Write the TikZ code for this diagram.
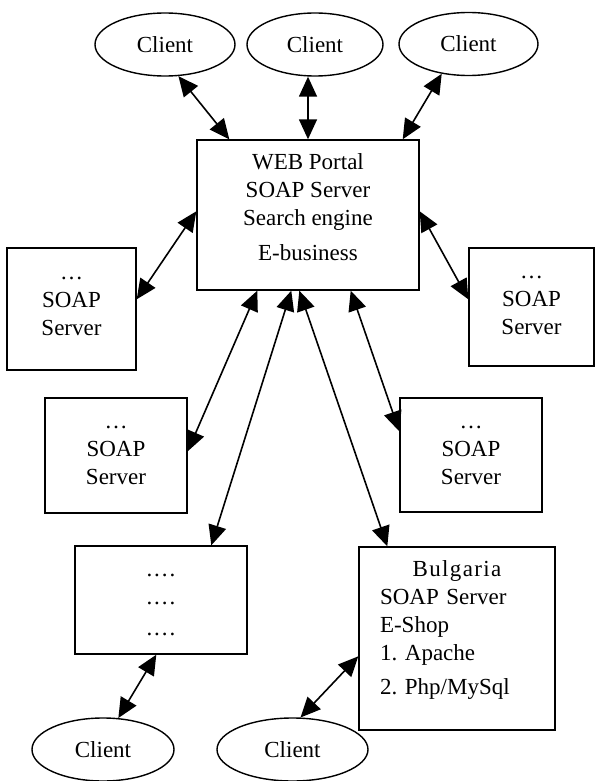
\documentclass[tikz,border=0pt]{standalone}
\usepackage{fontspec}
\setmainfont{Liberation Serif}
\usetikzlibrary{positioning,shapes.geometric,arrows.meta}
\tikzset{
  client/.style={draw, ellipse, line width=0.7pt, inner sep=0pt, minimum width=70pt, minimum height=31.5pt},
  server/.style={draw, rectangle, line width=0.7pt, align=center},
  link/.style={{Triangle[length=10pt,width=9pt]}-{Triangle[length=10pt,width=9pt]}, line width=0.8pt}
}
\newcommand{\dotrow}{.\kern1pt.\kern1pt.\kern1pt.}
\frenchspacing

\begin{document}
\begin{tikzpicture}[x=0.5pt,y=-0.5pt,font=\fontsize{11.5}{14}\selectfont]
                   \useasboundingbox (0,0) rectangle (597,781);
                   % clients on top
                   \node[client] (c_1) at (165,44.5) {Client};
                   \node[client, minimum width=68pt] (c_2) at (315,44.5) {Client};
                   \node[client, minimum width=69.5pt] (c_3) at (468.5,44) {Client};
                   % portal
                   \node[server, minimum width=111pt, minimum height=75pt, text depth=8pt] (portal) at (308,215)
                        {WEB Portal\\SOAP Server\\Search engine\\[3.5pt]E-business};
                   % soap servers
                   \node[server, minimum width=64.5pt, minimum height=61pt, text depth=3pt] (s_1) at (71.5,309) {\char"2026\\SOAP\\Server};
                   \node[server, minimum width=62.5pt, minimum height=59pt, text depth=1.5pt] (s_2) at (531.5,307) {\char"2026\\SOAP\\Server};
                   \node[server, minimum width=71pt, minimum height=57.5pt] (s_3) at (116,455.5) {\char"2026\\SOAP\\Server};
                   \node[server, minimum width=71pt, minimum height=57pt] (s_4) at (471,455) {\char"2026\\SOAP\\Server};
                   \node[server, minimum width=86pt, minimum height=54pt, text height=36pt] (dots) at (161,600) {\dotrow\\\dotrow\\[1.5pt]\dotrow};
                   \node[server, minimum width=98pt, minimum height=91.5pt, text width=77pt, align=left, text depth=70.4pt] (bg) at (457,638.5)
                        {\makebox[77pt]{\addfontfeature{LetterSpace=6}Bulgaria}\\SOAP Server\\E-Shop\\1. Apache\\[3pt]2. Php/MySql};
                   % clients at the bottom
                   \node[client, minimum width=71pt] (b_1) at (103,749.5) {Client};
                   \node[client, minimum width=75.5pt] (b_2) at (292.5,749.5) {Client};
                    \path[link]
                    (c_1.-67) edge ([xshift=16.5pt]portal.north west)
                    (c_2.south -| portal.north) edge (portal.north)
                    (c_3.-132) edge ([xshift=-8.5pt]portal.north east)
                    ([yshift=-36pt]portal.north west) edge ([yshift=-26pt]s_1.north east)
                    ([yshift=-36pt]portal.north east) edge ([yshift=-26pt]s_2.north west)
                    ([xshift=30.5pt]portal.south west) edge ([yshift=-27pt]s_3.north east)
                    ([xshift=47.5pt]portal.south west) edge ([xshift=68.5pt]dots.north west)
                    ([xshift=51.5pt]portal.south west) edge ([xshift=14.5pt]bg.north west)
                    ([xshift=-34.5pt]portal.south east) edge ([yshift=-17pt]s_4.north west)
                    ([xshift=41pt]dots.south west) edge (b_1.64)
                    ([yshift=-55pt]bg.north west) edge (b_2.76)
                    ;
                \end{tikzpicture}
\end{document}
